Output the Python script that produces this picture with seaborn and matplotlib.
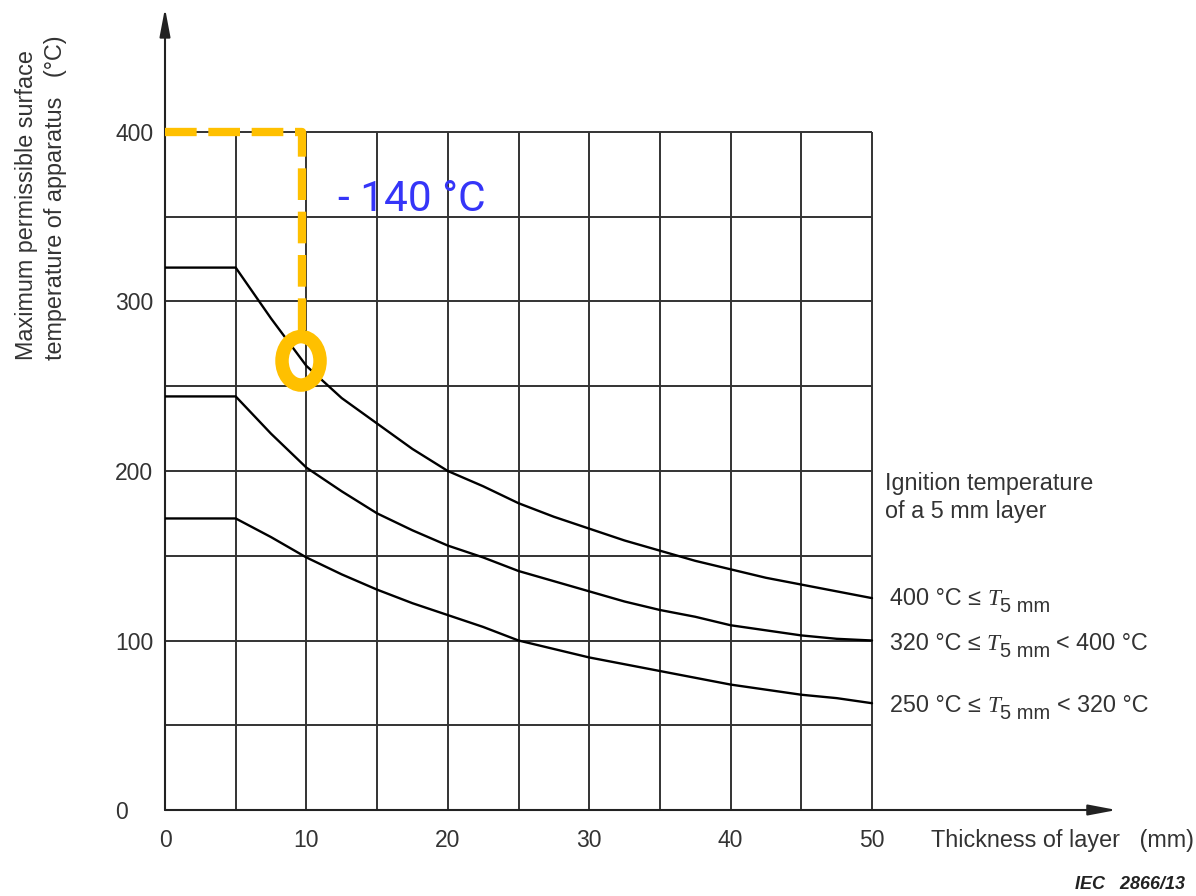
import numpy as np
import pandas as pd
import matplotlib
matplotlib.use("Agg")
import matplotlib.pyplot as plt
import seaborn as sns
from matplotlib.patches import Ellipse

# ---------------- data ----------------
thickness = [0, 5, 7.5, 10, 12.5, 15, 17.5, 20, 22.5, 25, 27.5, 30,
             32.5, 35, 37.5, 40, 42.5, 45, 47.5, 50]
curve_400 = [320, 320, 290, 262, 243, 228, 213, 200, 191, 181, 173, 166,
             159, 153, 147, 142, 137, 133, 129, 125]
curve_320 = [244, 244, 222, 202, 188, 175, 165, 156, 149, 141, 135, 129,
             123, 118, 114, 109, 106, 103, 101, 100]
curve_250 = [172, 172, 161, 149, 139, 130, 122, 115, 108, 100, 95, 90,
             86, 82, 78, 74, 71, 68, 66, 63]
curve_names = ["400", "320", "250"]

x_grid = [0, 5, 10, 15, 20, 25, 30, 35, 40, 45, 50]
y_grid = [0, 50, 100, 150, 200, 250, 300, 350, 400]
x_ticks = [0, 10, 20, 30, 40, 50]
y_ticks = [0, 100, 200, 300, 400]

label_lo = ["400 °C ≤", "320 °C ≤", "250 °C ≤"]
label_hi = ["", "< 400 °C", "< 320 °C"]

marker_path_x = [0, 9.7, 9.7]
marker_path_y = [400, 400, 283]
marker_circle = (9.62, 265)
delta_text = "- 140 °C"

df = pd.DataFrame({
    "thickness": thickness * 3,
    "temp": curve_400 + curve_320 + curve_250,
    "curve": sum([[n] * len(thickness) for n in curve_names], []),
})

# ---------------- figure ----------------
sns.set_theme(style="white")
plt.rcParams["font.family"] = ["Liberation Sans", "DejaVu Sans"]

W, H = 1196, 896
fig = plt.figure(figsize=(W / 100, H / 100), dpi=100)
px_x = 14.14
px_y = 1.695
x0_px, y0_px = 165, 810
xmax, ymax = 68, 475
ax = fig.add_axes([x0_px / W, (H - y0_px) / H, xmax * px_x / W, ymax * px_y / H])
ax.set_xlim(0, xmax)
ax.set_ylim(0, ymax)
for s in ax.spines.values():
    s.set_visible(False)

grid_col = "#333333"
ax.vlines(x_grid, 0, 400, color=grid_col, lw=1.4, zorder=1, clip_on=False)
ax.hlines(y_grid, 0, 50, color=grid_col, lw=1.4, zorder=1, clip_on=False)

# axis arrows
arrow_kw = dict(arrowstyle="-|>,head_length=0.95,head_width=0.18",
                color="#222222", lw=1.5, mutation_scale=18, shrinkA=0, shrinkB=0)
ax.annotate("", xy=(0, 473), xytext=(0, 0), annotation_clip=False, arrowprops=arrow_kw)
ax.annotate("", xy=(67.3, 0), xytext=(0, 0), annotation_clip=False, arrowprops=arrow_kw)

sns.lineplot(data=df, x="thickness", y="temp", units="curve", estimator=None,
             color="black", lw=1.7, sort=False, ax=ax, zorder=3)

# ticks
txt_col = "#333333"
fs = 16.8
ax.set_xticks(x_ticks)
ax.set_xticklabels([str(v) for v in x_ticks])
ax.set_yticks(y_ticks)
ax.set_yticklabels([str(v) for v in y_ticks])
ax.tick_params(axis="x", length=0, pad=14, labelsize=16.5, labelcolor=txt_col)
ax.tick_params(axis="y", length=0, pad=36, labelsize=16.5, labelcolor=txt_col)
for lab in ax.get_yticklabels():
    lab.set_horizontalalignment("left")

# axis labels
ax.set_xlabel("Thickness of layer   (mm)", fontsize=fs, color=txt_col)
ax.xaxis.set_label_coords((931 - x0_px) / (xmax * px_x), -(840 - y0_px) / (ymax * px_y))
ax.xaxis.label.set_ha("left")
ax.xaxis.label.set_va("center")

ax.set_ylabel("Maximum permissible surface\ntemperature of apparatus   (°C)",
              fontsize=fs, color=txt_col, linespacing=1.28)
ax.yaxis.set_label_coords((41 - x0_px) / (xmax * px_x), (y0_px - 360) / (ymax * px_y))
ax.yaxis.label.set_rotation_mode("default")
ax.yaxis.label.set_ha("center")
ax.yaxis.label.set_va("bottom")
ax.yaxis.label.set_multialignment("left")

# right-hand annotations
ax.text(50.92, 184.4, "Ignition temperature\nof a 5 mm layer", fontsize=fs,
        color=txt_col, ha="left", va="center", linespacing=1.25, clip_on=False)

ends = [curve_400[-1] + 1.5, curve_320[-1], curve_250[-1]]
for lo, hi, yv in zip(label_lo, label_hi, ends):
    t1 = ax.text(51.27, yv, lo, fontsize=fs, color=txt_col, ha="left",
                 va="center_baseline", clip_on=False)
    t2 = ax.annotate("T", xy=(1, 0), xycoords=t1, xytext=(4.5, 0),
                     textcoords="offset points", fontsize=fs, color=txt_col,
                     family=["Liberation Serif", "DejaVu Serif"], style="italic",
                     ha="left", va="bottom", annotation_clip=False)
    t3 = ax.annotate("5 mm", xy=(1, 0), xycoords=t2, xytext=(0, -4.5),
                     textcoords="offset points", fontsize=14.5, color=txt_col,
                     ha="left", va="bottom", annotation_clip=False)
    if hi:
        ax.annotate(hi, xy=(1, 0), xycoords=t3, xytext=(4.5, 4.5),
                    textcoords="offset points", fontsize=fs, color=txt_col,
                    ha="left", va="bottom", annotation_clip=False)

# orange highlight
orange = "#FFC000"
ax.plot(marker_path_x, marker_path_y, color=orange, lw=6, ls=(0, (3.8, 1.4)),
        solid_capstyle="butt", dash_capstyle="butt", zorder=5, clip_on=False)
ax.add_patch(Ellipse(marker_circle, width=2.69, height=28.6, fill=False,
                     edgecolor=orange, lw=9.7, zorder=6))

ax.text(12.23, 360, delta_text, fontsize=30.5, color="#3535f8",
        family=["Roboto", "Liberation Sans", "DejaVu Sans"], fontweight="normal",
        ha="left", va="center", zorder=7)

ax.text(64.36, -44.2, "IEC   2866/13", fontsize=13, style="italic",
        fontweight="bold", color="#222222", ha="left", va="center", clip_on=False)

fig.savefig("out.png", dpi=100)
